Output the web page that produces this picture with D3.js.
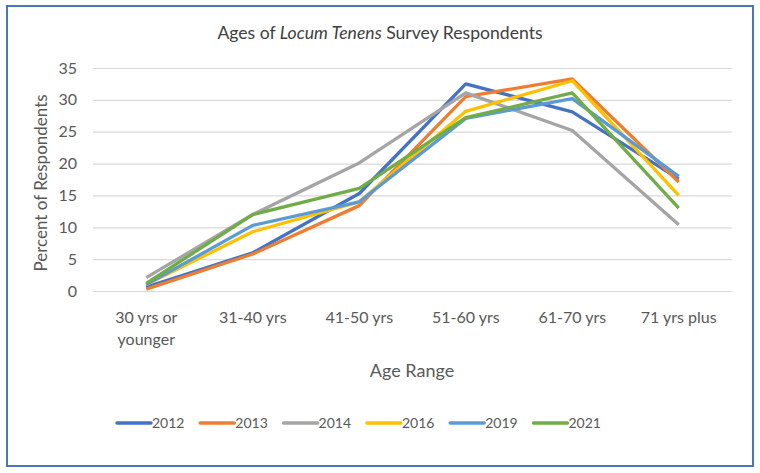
<!DOCTYPE html>
<html><head><meta charset="utf-8">
<script src="https://cdn.jsdelivr.net/npm/d3@7"></script>
<style>
html,body{margin:0;padding:0;background:#fff;}
svg{display:block;}
text{font-family:Lato,"Open Sans",sans-serif;}
</style></head>
<body>
<svg id="chart" width="760" height="473"></svg>
<script>
const categories = ["30 yrs or younger","31-40 yrs","41-50 yrs","51-60 yrs","61-70 yrs","71 yrs plus"];
const categoryLines = [["30 yrs or","younger"],["31-40 yrs"],["41-50 yrs"],["51-60 yrs"],["61-70 yrs"],["71 yrs plus"]];
const seriesNames = ["2012","2013","2014","2016","2019","2021"];
const v2012 = [0.6, 6.0, 15.3, 32.5, 28.1, 17.6];
const v2013 = [0.3, 5.8, 13.4, 30.5, 33.3, 17.1];
const v2014 = [2.1, 12.0, 20.1, 31.1, 25.2, 10.4];
const v2016 = [1.0, 9.3, 14.0, 28.2, 33.0, 15.0];
const v2019 = [1.0, 10.3, 14.0, 27.1, 30.2, 18.0];
const v2021 = [1.2, 12.0, 16.1, 27.2, 31.1, 13.0];
const seriesValues = [v2012, v2013, v2014, v2016, v2019, v2021];
const yTicks = [0,5,10,15,20,25,30,35];
const colors = ["#4472C4","#ED7D31","#A5A5A5","#FFC000","#5B9BD5","#70AD47"];

(function(){
const svg = d3.select("#chart");
svg.append("rect").attr("x",7).attr("y",6).attr("width",746).attr("height",460)
  .attr("fill","#fff").attr("stroke","#4a78b6").attr("stroke-width",2);

const pL = 93, pR = 732, pT = 68, pB = 291;
const x = d3.scaleBand().domain(categories).range([pL, pR]);
const y = d3.scaleLinear().domain([0,35]).range([pB, pT]);

const title = svg.append("text").attr("x",380).attr("y",39).attr("text-anchor","middle")
  .attr("font-size",17.6).attr("fill","#404040");
title.append("tspan").text("Ages of ");
title.append("tspan").attr("font-style","italic").text("Locum Tenens");
title.append("tspan").text(" Survey Respondents");

const yAxis = d3.axisLeft(y).tickValues(yTicks).tickSize(-(pR-pL)).tickPadding(16);
const gy = svg.append("g").attr("transform",`translate(${pL},0)`).call(yAxis);
gy.select(".domain").remove();
gy.selectAll(".tick line").attr("stroke","#d9d9d9").attr("stroke-width",1.2);
gy.selectAll(".tick text").attr("font-size",16).attr("fill","#595959")
  .attr("font-family","Lato, 'Open Sans', sans-serif");

const xAxis = d3.axisBottom(x).tickSize(0).tickFormat(() => "");
const gx = svg.append("g").attr("transform",`translate(0,${pB})`).call(xAxis);
gx.select(".domain").attr("stroke","#d9d9d9").attr("stroke-width",1.2);
gx.selectAll(".tick").each(function(d,i){
  const t = d3.select(this).append("text").attr("text-anchor","middle")
    .attr("font-size",16).attr("fill","#595959").attr("y",32);
  categoryLines[i].forEach((ln,j)=>{
    t.append("tspan").attr("x",0).attr("dy", j===0?0:22).text(ln);
  });
});

svg.append("text").attr("transform","translate(47,183) rotate(-90)").attr("text-anchor","middle")
  .attr("font-size",17).attr("fill","#595959").text("Percent of Respondents");
svg.append("text").attr("x",412).attr("y",377).attr("text-anchor","middle")
  .attr("font-size",18).attr("fill","#595959").text("Age Range");

const line = d3.line().x((d,i)=>x(categories[i]) + x.bandwidth()/2).y(d=>y(d));
seriesValues.forEach((vals,k)=>{
  svg.append("path").datum(vals).attr("d",line).attr("fill","none")
    .attr("stroke",colors[k]).attr("stroke-width",3.3).attr("stroke-linejoin","round");
});

const legend = svg.append("g");
seriesNames.forEach((n,k)=>{
  const lx = 117 + k*83.3;
  legend.append("line").attr("x1",lx).attr("x2",lx+34).attr("y1",423).attr("y2",423)
    .attr("stroke",colors[k]).attr("stroke-width",3.5).attr("stroke-linecap","round");
  legend.append("text").attr("x",lx+35).attr("y",428).attr("font-size",14)
    .attr("fill","#595959").text(n);
});
})();
</script>
</body></html>
